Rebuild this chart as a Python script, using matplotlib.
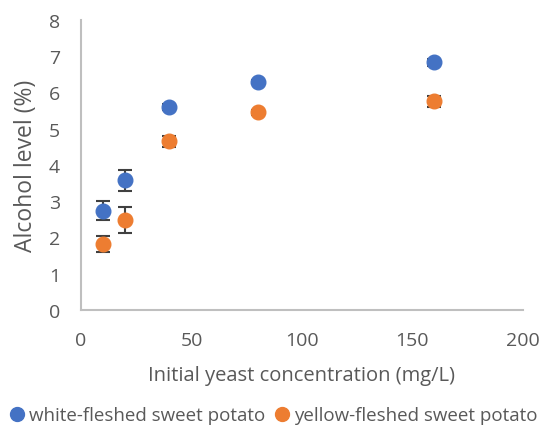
import matplotlib.pyplot as plt

plt.rcParams['font.family'] = ['Open Sans', 'DejaVu Sans']

conc = [10, 20, 40, 80, 160]
white = [2.74, 3.57, 5.60, 6.28, 6.83]
white_err = [0.26, 0.28, 0.08, 0.06, 0.10]
yellow = [1.83, 2.48, 4.65, 5.45, 5.76]
yellow_err = [0.22, 0.36, 0.15, 0.06, 0.15]

fig = plt.figure(figsize=(5.44, 4.27), dpi=100)
ax = fig.add_axes([0.149, 0.272, 0.812, 0.679])

ax.errorbar(conc, white, yerr=white_err, fmt='o', color='#4472c4', ms=10.5,
            ecolor='#404040', elinewidth=1.5, capsize=5, capthick=1.5,
            label='white-fleshed sweet potato', zorder=3)
ax.errorbar(conc, yellow, yerr=yellow_err, fmt='o', color='#ed7d31', ms=10.5,
            ecolor='#404040', elinewidth=1.5, capsize=5, capthick=1.5,
            label='yellow-fleshed sweet potato', zorder=3)

ax.set_xlim(0, 200)
ax.set_ylim(0, 8)
ax.set_xticks([0, 50, 100, 150, 200])
ax.set_yticks(range(9))
ax.tick_params(length=0, labelsize=14, colors='#595959')
ax.tick_params(axis='x', pad=15)
ax.tick_params(axis='y', pad=15)
for s in ['top', 'right']:
    ax.spines[s].set_visible(False)
for s in ['left', 'bottom']:
    ax.spines[s].set_color('#bfbfbf')
    ax.spines[s].set_linewidth(1.5)

ax.set_xlabel('Initial yeast concentration (mg/L)', fontsize=14.5, color='#595959', labelpad=12)
ax.set_ylabel('Alcohol level (%)', fontsize=16.5, color='#595959', labelpad=8)

handles = [plt.Line2D([], [], marker='o', ls='', color=c, ms=10) for c in ['#4472c4', '#ed7d31']]
fig.legend(handles, ['white-fleshed sweet potato', 'yellow-fleshed sweet potato'],
           loc='lower center', bbox_to_anchor=(0.5, -0.035), ncol=2, frameon=False,
           fontsize=13.5, labelcolor='#595959', handletextpad=0.1, columnspacing=0.3,
           handlelength=1.1)

fig.savefig('out.png', dpi=100)
